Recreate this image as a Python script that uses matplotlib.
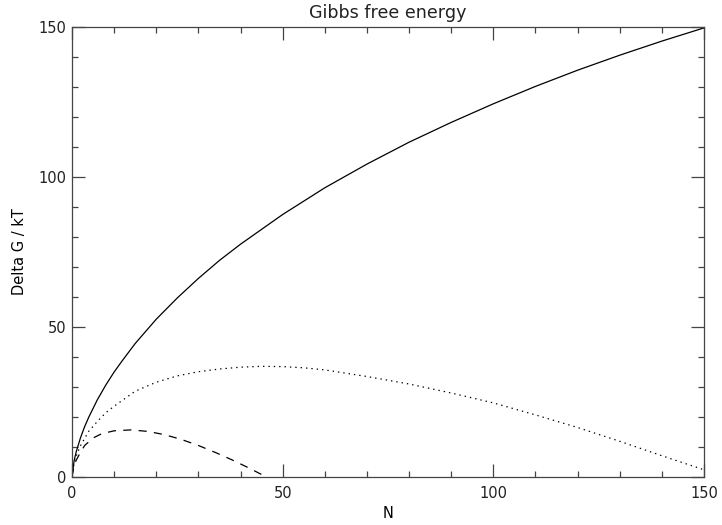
import matplotlib
matplotlib.use("Agg")
import matplotlib.pyplot as plt
from matplotlib.ticker import MultipleLocator

# values
n_solid = [0, 0.5, 1, 2, 3, 4, 6, 8, 10, 12, 15, 20, 25, 30, 35, 40, 50, 60,
           70, 80, 90, 100, 110, 120, 130, 140, 150]
g_solid = [0, 5.3, 8.3, 12.9, 16.7, 19.9, 25.6, 30.5, 34.9, 38.8, 44.4,
           52.5, 59.6, 66.1, 72.1, 77.5, 87.4, 96.3, 104.2, 111.5, 118.1,
           124.3, 130.1, 135.5, 140.5, 145.2, 149.6]

n_dot = [0, 0.5, 1, 2, 4, 6, 8, 10, 15, 20, 25, 30, 35, 40, 45, 50, 55, 60,
         70, 80, 90, 100, 110, 120, 130, 140, 150]
g_dot = [0, 4.6, 6.9, 10.3, 15.2, 18.4, 21.3, 23.5, 28.5, 31.5, 33.6, 35.0,
         35.9, 36.5, 36.8, 36.7, 36.3, 35.6, 33.4, 30.9, 27.9, 24.6, 20.6,
         16.4, 11.8, 7.0, 2.3]

n_dash = [0, 0.5, 1, 2, 3, 5, 7, 10, 14, 18, 22, 26, 30, 34, 38, 42, 46]
g_dash = [0, 3.7, 5.5, 8.1, 10.4, 12.9, 14.3, 15.3, 15.6, 15.1, 14.0, 12.4,
          10.4, 8.1, 5.6, 2.9, 0]

plt.rcParams['font.family'] = ['DejaVu Sans']
plt.rcParams['font.size'] = 10.5
plt.rcParams['text.color'] = '#222222'
plt.rcParams['xtick.labelcolor'] = '#222222'
plt.rcParams['ytick.labelcolor'] = '#222222'

fig = plt.figure(figsize=(7.22, 5.25), dpi=100)
ax = fig.add_axes([72 / 722, 1 - 476.7 / 525, 632 / 722, 450 / 525])

ax.plot(n_solid, g_solid, color='black', lw=0.9)
ax.plot(n_dot, g_dot, color='black', lw=0.9, linestyle=(0, (1.1, 3.2)))
ax.plot(n_dash, g_dash, color='black', lw=0.9, linestyle=(0, (6.5, 5.8)))

ax.set_xlim(0, 150)
ax.set_ylim(0, 150)
ax.xaxis.set_major_locator(MultipleLocator(50))
ax.xaxis.set_minor_locator(MultipleLocator(10))
ax.yaxis.set_major_locator(MultipleLocator(50))
ax.yaxis.set_minor_locator(MultipleLocator(10))
ax.tick_params(which='both', direction='in', top=True, right=True,
               color='#444444', width=0.9)
ax.tick_params(which='major', length=9.5)
ax.tick_params(which='minor', length=4.3)
ax.tick_params(axis='x', pad=7)
ax.tick_params(axis='y', pad=4)
for s in ax.spines.values():
    s.set_color('#444444')
    s.set_linewidth(0.9)

ax.set_title("Gibbs free energy", pad=6)
ax.set_xlabel("N", labelpad=3)
ax.set_ylabel("Delta G / kT", labelpad=8)

fig.savefig("out.png", dpi=100)
